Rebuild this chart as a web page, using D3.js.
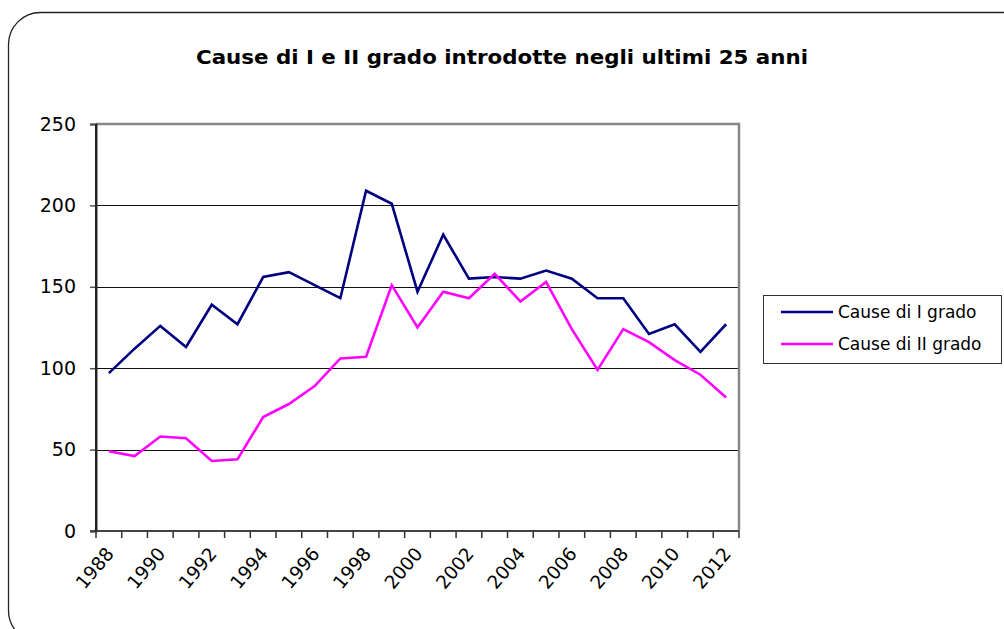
<!DOCTYPE html>
<html>
<head>
<meta charset="utf-8">
<script src="https://cdn.jsdelivr.net/npm/d3@7/dist/d3.min.js"></script>
<style>
  body { margin: 0; background: #fff; }
  svg { display: block; font-family: "DejaVu Sans", Verdana, sans-serif; }
</style>
</head>
<body>
<svg id="chart" width="1004" height="629"></svg>
<script>
const years = d3.range(1988, 2013).map(String);
const causeI = [97, 112, 126, 113, 139, 127, 156, 159, 151, 143, 209, 201, 147, 182, 155, 156, 155, 160, 155, 143, 143, 121, 127, 110, 127];
const causeII = [49, 46, 58, 57, 43, 44, 70, 78, 89, 106, 107, 151, 125, 147, 143, 158, 141, 153, 124, 99, 124, 116, 105, 96, 82];
const yTicks = [0, 50, 100, 150, 200, 250];
const seriesNames = ["Cause di I grado", "Cause di II grado"];
const seriesColors = ["#000080", "#FF00FF"];

const svg = d3.select("#chart");
const plot = { left: 96, top: 124, right: 739, bottom: 531 };

// outer rounded border
svg.append("rect")
    .attr("x", 8.5).attr("y", 12.5)
    .attr("width", 1030).attr("height", 630)
    .attr("rx", 32).attr("ry", 32)
    .attr("fill", "none")
    .attr("stroke", "#222")
    .attr("stroke-width", 1.3);

svg.append("text")
    .attr("x", 502).attr("y", 64)
    .attr("text-anchor", "middle")
    .attr("font-weight", "bold")
    .attr("font-size", 20)
    .attr("textLength", 612)
    .attr("lengthAdjust", "spacingAndGlyphs")
    .text("Cause di I e II grado introdotte negli ultimi 25 anni");

const x = d3.scaleBand().domain(years).range([plot.left, plot.right]);
const y = d3.scaleLinear().domain([0, 250]).range([plot.bottom, plot.top]);

// gridlines
svg.append("g").selectAll("line")
    .data(yTicks.filter(d => d > 0 && d < 250))
    .join("line")
    .attr("x1", plot.left).attr("x2", plot.right)
    .attr("y1", d => Math.round(y(d)) + 0.5).attr("y2", d => Math.round(y(d)) + 0.5)
    .attr("stroke", "#111").attr("stroke-width", 1);

// plot frame top + right
svg.append("path")
    .attr("d", `M${plot.left},${plot.top}H${plot.right}V${plot.bottom}`)
    .attr("fill", "none")
    .attr("stroke", "#888")
    .attr("stroke-width", 2.5);

// y axis
const yAxis = d3.axisLeft(y).tickValues(yTicks).tickSize(6).tickPadding(14);
const gy = svg.append("g").attr("transform", `translate(${plot.left},0)`).call(yAxis);
gy.select(".domain").attr("stroke", "#333").attr("stroke-width", 2);
gy.selectAll(".tick line").attr("stroke", "#555").attr("stroke-width", 1.5);
gy.selectAll("text").attr("font-size", 19).attr("fill", "#000")
    .attr("font-family", "DejaVu Sans, sans-serif");

// x axis: ticks at category boundaries
const gx = svg.append("g");
gx.append("line")
    .attr("x1", plot.left - 6).attr("x2", plot.right)
    .attr("y1", plot.bottom).attr("y2", plot.bottom)
    .attr("stroke", "#444").attr("stroke-width", 2);
const bounds = years.map(d => x(d)).concat([x.range()[1]]);
gx.selectAll(".xt").data(bounds).join("line")
    .attr("class", "xt")
    .attr("x1", d => d).attr("x2", d => d)
    .attr("y1", plot.bottom).attr("y2", plot.bottom + 7)
    .attr("stroke", "#333").attr("stroke-width", 1.5);
gx.selectAll(".xl").data(years.filter((d, i) => i % 2 === 0)).join("text")
    .attr("class", "xl")
    .attr("transform", d => `translate(${x(d) + x.bandwidth() / 2 + 1},${plot.bottom + 19}) rotate(-50)`)
    .attr("text-anchor", "end")
    .attr("dy", "0.35em")
    .attr("font-size", 18.5)
    .text(d => d);

// left axis line over frame
svg.append("line")
    .attr("x1", plot.left).attr("x2", plot.left)
    .attr("y1", plot.top).attr("y2", plot.bottom)
    .attr("stroke", "#222").attr("stroke-width", 2);

const line = d3.line()
    .x((d, i) => x(years[i]) + x.bandwidth() / 2)
    .y(d => y(d));

[causeI, causeII].forEach((s, k) => {
    svg.append("path")
        .datum(s)
        .attr("d", line)
        .attr("fill", "none")
        .attr("stroke", seriesColors[k])
        .attr("stroke-width", 2.6)
        .attr("stroke-linejoin", "miter");
});

// legend
const lg = svg.append("g");
lg.append("rect")
    .attr("x", 763.5).attr("y", 295.5)
    .attr("width", 238).attr("height", 68)
    .attr("fill", "#fff").attr("stroke", "#333").attr("stroke-width", 1);
seriesNames.forEach((name, i) => {
    const ly = 312 + i * 32;
    lg.append("line")
        .attr("x1", 781).attr("x2", 833)
        .attr("y1", ly).attr("y2", ly)
        .attr("stroke", seriesColors[i]).attr("stroke-width", 2.6);
    lg.append("text")
        .attr("x", 838).attr("y", ly)
        .attr("dy", "0.35em")
        .attr("font-size", 17)
        .text(name);
});
</script>
</body>
</html>
